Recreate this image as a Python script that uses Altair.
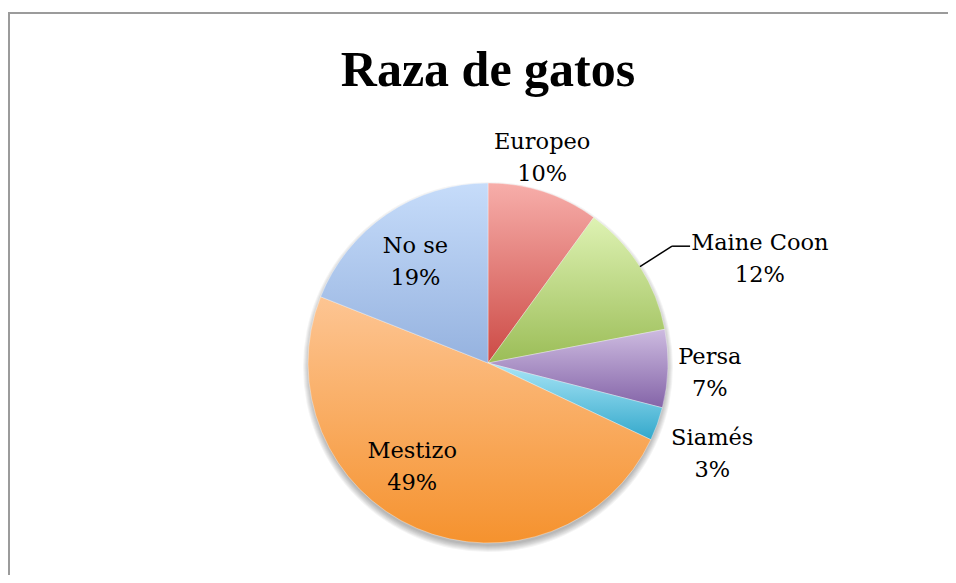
import altair as alt
import pandas as pd

# ---- data ----
categories = ["Europeo", "Maine Coon", "Persa", "Siamés", "Mestizo", "No se"]
percents = [10, 12, 7, 3, 49, 19]

# ---- styles (gradient top -> bottom per slice) ----
top_colors = ["#F7AEAA", "#DEF2B3", "#CDBBE0", "#AAE6F7", "#FDC593", "#C6DCFA"]
bottom_colors = ["#CC4A45", "#9BBD57", "#8464A8", "#33A8CB", "#F5922E", "#95B2DF"]

# label layout: angular shift from slice mid-angle (deg) and radius (px)
label_shift = [-3.2, 11.5, 0.8, 2.3, 12.6, -1.6]
label_radius = [212, 291, 222, 242, 129, 124]

W, H = 940, 567
CX, CY, R = 480, 355, 180
FONT = "DejaVu Serif"
LH = 32

df = pd.DataFrame({
    "cat": categories,
    "pct": percents,
    "order": list(range(len(categories))),
    "lshift": label_shift,
    "lrad": label_radius,
})

base = (
    alt.Chart(df)
    .transform_window(cum="sum(pct)", sort=[alt.SortField("order")], frame=[None, 0])
    .transform_joinaggregate(total="sum(pct)")
    .transform_calculate(
        start="(datum.cum - datum.pct) / datum.total * 2 * PI",
        end="datum.cum / datum.total * 2 * PI",
        mid="(datum.cum - datum.pct / 2) / datum.total * 2 * PI",
    )
)

dummy = alt.Chart(pd.DataFrame({"a": [0]}))

# frame (top and left edges; the right and bottom edges lie outside the window)
frame_top = dummy.mark_rule(color="#9B9B9B", strokeWidth=2, strokeCap="butt").encode(
    x=alt.value(0), x2=alt.value(W + 20), y=alt.value(5)
)
frame_left = dummy.mark_rule(color="#9B9B9B", strokeWidth=2, strokeCap="butt").encode(
    x=alt.value(1), y=alt.value(4), y2=alt.value(H + 20)
)

# title
title = dummy.mark_text(
    text="Raza de gatos", font="Liberation Serif", fontWeight="bold",
    fontSize=50, baseline="alphabetic", align="center", color="#000000"
).encode(x=alt.value(CX), y=alt.value(78))

# soft shadow
shadows = [
    dummy.mark_arc(theta=0, theta2=6.2832, radius=R + k, color="#000000", opacity=0.045).encode(
        x=alt.value(CX), y=alt.value(CY + 4)
    )
    for k in range(-1, 6)
]

# slices
slices = []
for c, tc, bc in zip(categories, top_colors, bottom_colors):
    grad = alt.Gradient(
        gradient="linear",
        stops=[alt.GradientStop(color=tc, offset=0), alt.GradientStop(color=bc, offset=1)],
        x1=0, x2=0, y1=0, y2=1,
    )
    slices.append(
        base.transform_filter(alt.datum.cat == c)
        .mark_arc(radius=R, color=grad, stroke="#FFFFFF", strokeWidth=0.5, strokeOpacity=0.7)
        .encode(
            theta=alt.Theta("start:Q", scale=None),
            theta2=alt.Theta2("end:Q"),
            x=alt.value(CX),
            y=alt.value(CY),
        )
    )

# labels (two-line block centred on the computed point)
labels = (
    base.transform_calculate(
        la="datum.mid + datum.lshift * PI / 180",
        label="datum.cat + '\\n' + datum.pct + '%'",
    )
    .transform_calculate(
        lx=f"{CX} + datum.lrad * sin(datum.la)",
        ly=f"{CY} - datum.lrad * cos(datum.la) - {LH / 2}",
    )
    .mark_text(font=FONT, fontSize=22.5, lineHeight=LH, lineBreak="\n",
               align="center", baseline="middle", color="#000000")
    .encode(
        x=alt.X("lx:Q", scale=None),
        y=alt.Y("ly:Q", scale=None),
        text="label:N",
    )
)

# leader line for Maine Coon
leader_base = base.transform_filter(alt.datum.cat == "Maine Coon").transform_calculate(
    px=f"{CX} + {R} * sin(datum.mid)",
    py=f"{CY} - {R} * cos(datum.mid)",
    ex=f"{CX} + 218 * sin(datum.mid)",
    ey=f"{CY} - 218 * cos(datum.mid)",
).transform_calculate(hx="datum.ex + 18")
leader1 = leader_base.mark_rule(color="#000000", strokeWidth=1.5).encode(
    x=alt.X("px:Q", scale=None), y=alt.Y("py:Q", scale=None),
    x2="ex:Q", y2="ey:Q",
)
leader2 = leader_base.mark_rule(color="#000000", strokeWidth=1.5).encode(
    x=alt.X("ex:Q", scale=None), y=alt.Y("ey:Q", scale=None),
    x2="hx:Q",
)

chart = alt.layer(
    frame_top, frame_left, title, *shadows, *slices, leader1, leader2, labels
).properties(
    width=W, height=H, padding=0, autosize="none"
).configure_view(stroke=None)

chart.save("out.html", embed_options={"renderer": "svg", "actions": False})
